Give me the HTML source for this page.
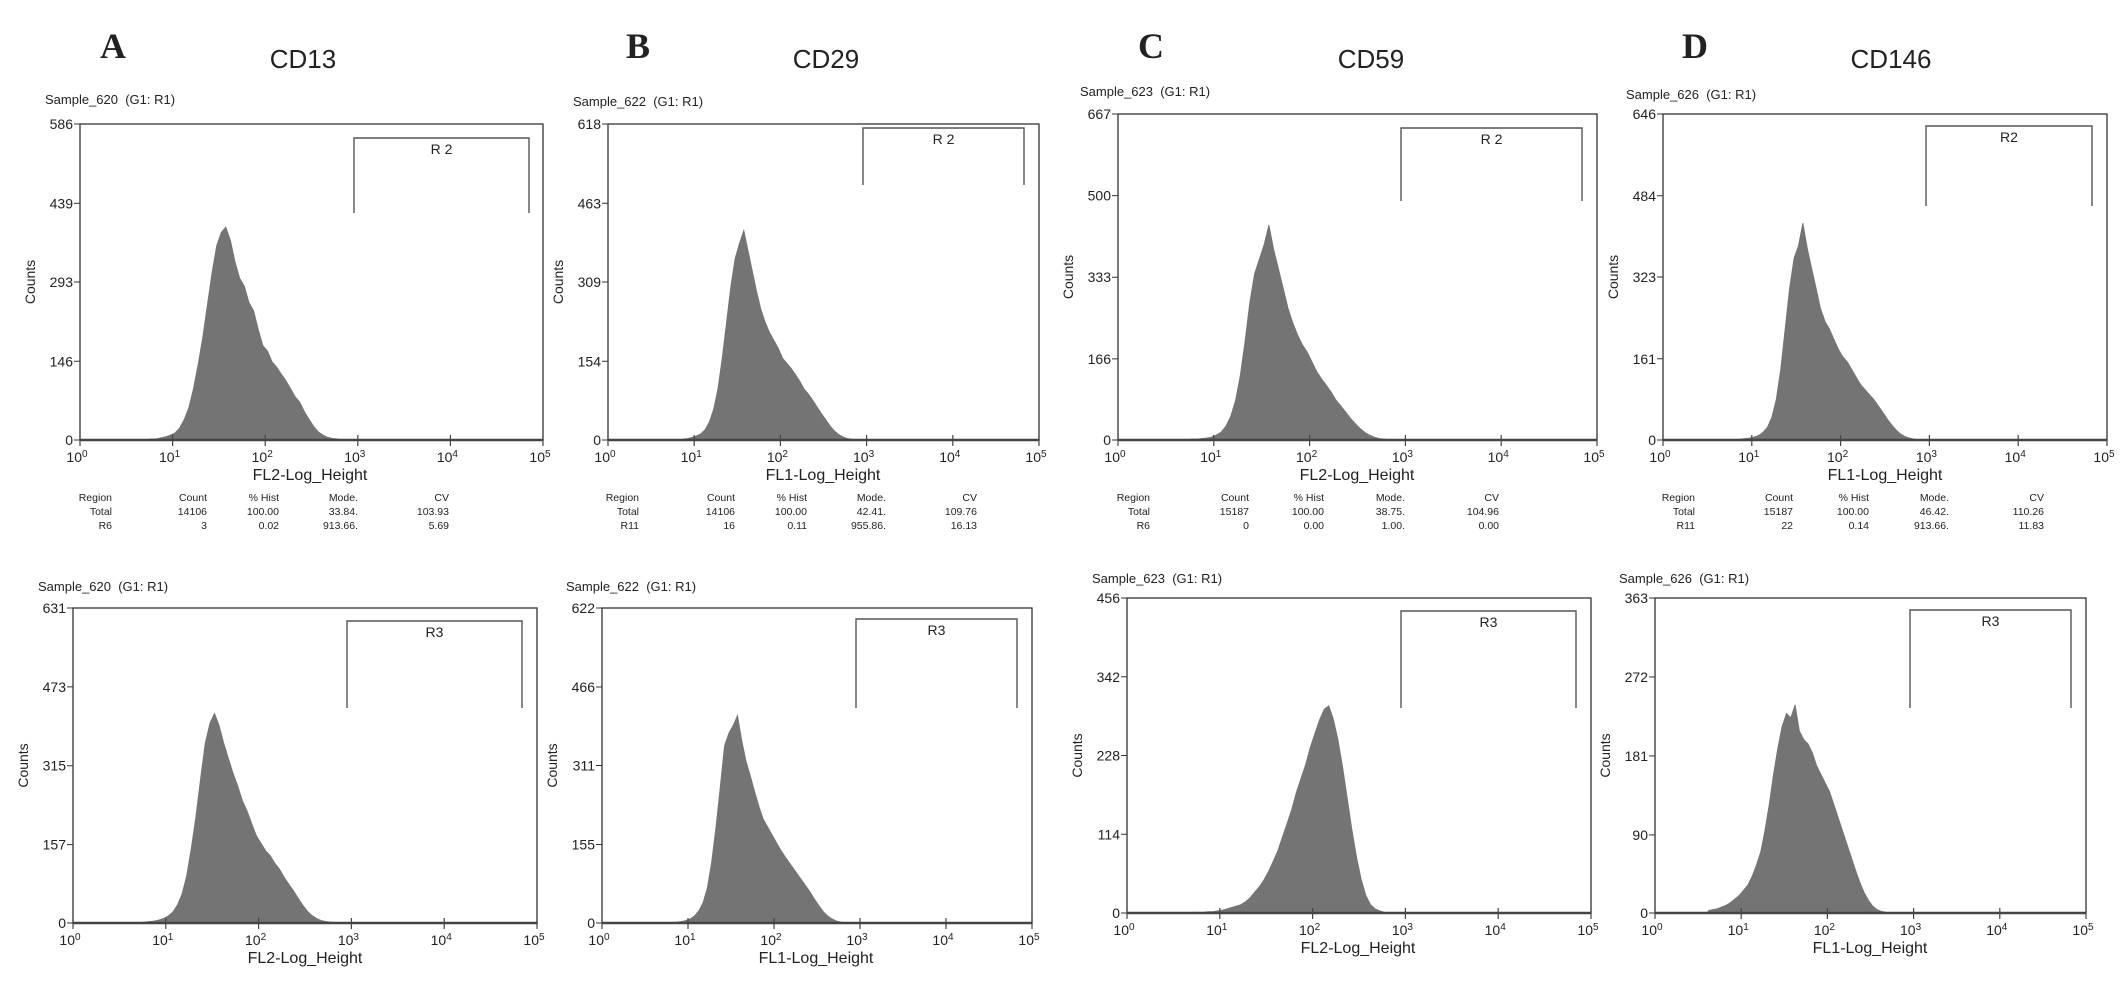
<!DOCTYPE html>
<html><head><meta charset="utf-8">
<style>
html,body{margin:0;padding:0;background:#fff;}
svg{display:block;}
text{font-family:"Liberation Sans",Arial,sans-serif;fill:#222;white-space:pre;}
</style></head>
<body>
<svg id="fig" width="2126" height="984" viewBox="0 0 2126 984" xmlns="http://www.w3.org/2000/svg"></svg>
<script>
// ---- data (counts per bin, bins from 10^0.60 to 10^3.10 in 0.05-decade steps) ----
const binStart = 0.60;
const binStep = 0.05;
const histA1 = [0,1,1,2,2,4,6,9,13,22,38,60,95,140,190,250,310,360,385,395,370,330,300,285,255,240,205,175,165,145,135,122,110,95,80,70,52,38,25,15,9,5,3,2,1,1,0,0,0,0,0];
const histA2 = [0,1,1,2,3,4,6,9,14,22,36,58,95,150,215,290,360,400,420,395,360,330,300,275,245,225,200,175,160,145,135,120,108,92,78,65,50,36,24,15,9,5,3,2,1,1,0,0,0,0,0];
const histB1 = [0,0,1,1,1,2,3,5,8,12,20,35,60,100,160,230,300,355,385,410,370,330,290,255,230,210,195,180,160,150,140,128,115,100,90,78,65,52,40,28,18,11,6,3,2,1,0,0,0,0,0];
const histB2 = [0,0,1,1,1,2,3,5,8,14,24,40,70,120,190,270,350,375,390,410,360,320,290,260,230,205,190,175,160,145,132,120,108,96,84,72,60,46,34,22,14,8,4,2,1,0,0,0,0,0,0];
const histC1 = [0,1,1,2,2,3,4,6,10,16,28,48,80,130,200,280,340,370,400,440,390,350,310,270,240,215,195,180,160,140,125,112,98,82,70,58,45,34,24,16,10,6,3,2,1,0,0,0,0,0,0];
const histC2 = [0,0,1,1,1,2,2,3,4,6,8,10,12,16,22,30,38,48,60,75,90,110,130,150,175,195,215,240,260,280,295,300,280,250,210,165,120,80,48,25,12,6,3,1,0,0,0,0,0,0,0];
const histD1 = [0,0,1,1,1,2,3,4,6,9,15,25,45,80,140,220,300,360,385,430,380,340,300,260,235,220,200,180,165,155,140,125,110,100,90,80,68,55,42,30,20,12,7,4,2,1,0,0,0,0,0];
const histD2 = [3,4,5,7,9,12,16,20,26,32,42,55,70,95,125,160,190,215,230,225,240,210,200,195,185,170,160,150,140,125,110,95,80,65,50,36,24,15,8,4,2,1,0,0,0,0,0,0,0,0,0];
const yTicksA1 = [0,146,293,439,586];
const yTicksA2 = [0,157,315,473,631];
const yTicksB1 = [0,154,309,463,618];
const yTicksB2 = [0,155,311,466,622];
const yTicksC1 = [0,166,333,500,667];
const yTicksC2 = [0,114,228,342,456];
const yTicksD1 = [0,161,323,484,646];
const yTicksD2 = [0,90,181,272,363];
const decades = [0,1,2,3,4,5];
const statsHeader = ["Region","Count","% Hist","Mode.","CV"];
const statsA = [["Total","14106","100.00","33.84.","103.93"],["R6","3","0.02","913.66.","5.69"]];
const statsB = [["Total","14106","100.00","42.41.","109.76"],["R11","16","0.11","955.86.","16.13"]];
const statsC = [["Total","15187","100.00","38.75.","104.96"],["R6","0","0.00","1.00.","0.00"]];
const statsD = [["Total","15187","100.00","46.42.","110.26"],["R11","22","0.14","913.66.","11.83"]];

const NS="http://www.w3.org/2000/svg";
const svg=document.getElementById('fig');
function mk(tag,attrs,parent){const e=document.createElementNS(NS,tag);for(const k in attrs)e.setAttribute(k,attrs[k]);(parent||svg).appendChild(e);return e;}

const panels=[
 {id:'a1',hist:histA1,ticks:yTicksA1,L:80,R:543,T:124,B:440,gx1:354,gx2:529,gt:138,gb:213,gl:'R 2',sx:45,sy:99,title:'FL2-Log_Height',tx:310,stats:statsA,cols:[112,207,279,358,449],sty:497},
 {id:'a2',hist:histA2,ticks:yTicksA2,L:73,R:537,T:608,B:923,gx1:347,gx2:522,gt:621,gb:708,gl:'R3',sx:38,sy:586,title:'FL2-Log_Height',tx:305},
 {id:'b1',hist:histB1,ticks:yTicksB1,L:608,R:1039,T:124,B:440,gx1:863,gx2:1024,gt:128,gb:185,gl:'R 2',sx:573,sy:101,title:'FL1-Log_Height',tx:823,stats:statsB,cols:[639,735,807,886,977],sty:497},
 {id:'b2',hist:histB2,ticks:yTicksB2,L:602,R:1032,T:608,B:923,gx1:856,gx2:1017,gt:619,gb:708,gl:'R3',sx:566,sy:586,title:'FL1-Log_Height',tx:816},
 {id:'c1',hist:histC1,ticks:yTicksC1,L:1118,R:1597,T:114,B:440,gx1:1401,gx2:1582,gt:128,gb:201,gl:'R 2',sx:1080,sy:91,title:'FL2-Log_Height',tx:1357,stats:statsC,cols:[1150,1249,1324,1405,1499],sty:497},
 {id:'c2',hist:histC2,ticks:yTicksC2,L:1127,R:1591,T:598,B:913,gx1:1401,gx2:1576,gt:611,gb:708,gl:'R3',sx:1092,sy:578,title:'FL2-Log_Height',tx:1358},
 {id:'d1',hist:histD1,ticks:yTicksD1,L:1663,R:2107,T:114,B:440,gx1:1926,gx2:2092,gt:126,gb:206,gl:'R2',sx:1626,sy:94,title:'FL1-Log_Height',tx:1885,stats:statsD,cols:[1695,1793,1869,1949,2044],sty:497},
 {id:'d2',hist:histD2,ticks:yTicksD2,L:1655,R:2086,T:598,B:913,gx1:1910,gx2:2071,gt:610,gb:708,gl:'R3',sx:1619,sy:578,title:'FL1-Log_Height',tx:1870}
];

const headers=[{l:'A',lx:100,t:'CD13',tx:303},{l:'B',lx:626,t:'CD29',tx:826},{l:'C',lx:1138,t:'CD59',tx:1371},{l:'D',lx:1682,t:'CD146',tx:1891}];
headers.forEach(h=>{
 const a=mk('text',{x:h.lx,y:58,'font-size':36,'font-weight':'bold',style:'font-family:"Liberation Serif",serif'});a.textContent=h.l;
 
 
 const t=mk('text',{x:h.tx,y:68,'font-size':26,'text-anchor':'middle'});t.textContent=h.t;
 
 
});

panels.forEach(p=>{
 const g=mk('g',{});
 
 
 const ymax=p.ticks[p.ticks.length-1];
 const xs=v=>p.L+(v/5)*(p.R-p.L);
 const ys=c=>p.B-(c/ymax)*(p.B-p.T);
 // histogram fill (connected bin centres)
 let d='M'+xs(binStart).toFixed(1)+','+p.B;
 p.hist.forEach((c,i)=>{const x=xs(binStart+(i+0.5)*binStep);d+=' L'+x.toFixed(1)+','+ys(c).toFixed(1);});
 d+=' L'+xs(binStart+p.hist.length*binStep).toFixed(1)+','+p.B+' Z';
 const path=mk('path',{d:d,fill:'#747474',stroke:'#747474','stroke-width':0.8,'stroke-linejoin':'miter'},g);
 
 
 // frame
 const fr=mk('rect',{x:p.L,y:p.T,width:p.R-p.L,height:p.B-p.T,fill:'none',stroke:'#333','stroke-width':1.3},g);
 
 
 mk('line',{x1:p.L,x2:p.R,y1:p.B,y2:p.B,stroke:'#444','stroke-width':2.5},g);
 // y ticks
 p.ticks.forEach(v=>{
  const y=ys(v);
  mk('line',{x1:p.L-6,x2:p.L,y1:y,y2:y,stroke:'#333','stroke-width':1},g);
  const t=mk('text',{x:p.L-7,y:y+5,'font-size':14,'text-anchor':'end'},g);t.textContent=v;
  
  
 });
 // x ticks
 decades.forEach(k=>{
  const x=xs(k);
  mk('line',{x1:x,x2:x,y1:p.B-5,y2:p.B+6,stroke:'#444','stroke-width':1.2},g);
  const t=mk('text',{x:x-3,y:p.B+22,'font-size':14,'text-anchor':'middle'},g);
  
  
  const s1=mk('tspan',{},t);s1.textContent='10';
  const s2=mk('tspan',{'font-size':10,dy:-5},t);s2.textContent=String(k);
 });
 // gate
 const gate=mk('path',{d:`M${p.gx1},${p.gb} L${p.gx1},${p.gt} L${p.gx2},${p.gt} L${p.gx2},${p.gb}`,fill:'none',stroke:'#555','stroke-width':1.4},g);
 
 
 const gl=mk('text',{x:(p.gx1+p.gx2)/2,y:p.gt+16,'font-size':14,'text-anchor':'middle'},g);gl.textContent=p.gl;
 
 
 // sample label
 const sl=mk('text',{x:p.sx,y:p.sy+5,'font-size':13},g);sl.textContent='Sample_'+({a:'620',b:'622',c:'623',d:'626'})[p.id[0]]+'  (G1: R1)';
 
 
 // counts label
 const cy=(p.T+p.B)/2;
 const cl=mk('text',{x:0,y:0,'font-size':14,'text-anchor':'middle',transform:`translate(${p.L-45},${cy}) rotate(-90)`},g);cl.textContent='Counts';
 
 
 // x title
 const xt=mk('text',{x:p.tx,y:p.B+40,'font-size':16,'text-anchor':'middle'},g);xt.textContent=p.title;
 
 
 // stats table
 if(p.stats){
  const rows=[statsHeader].concat(p.stats);
  rows.forEach((r,ri)=>{
   r.forEach((c,ci)=>{
    const t=mk('text',{x:p.cols[ci],y:p.sty+4+ri*14,'font-size':10.5,'text-anchor':'end',fill:'#333'},g);t.textContent=c;
    
    
   });
  });
 }
});
</script>
</body></html>
